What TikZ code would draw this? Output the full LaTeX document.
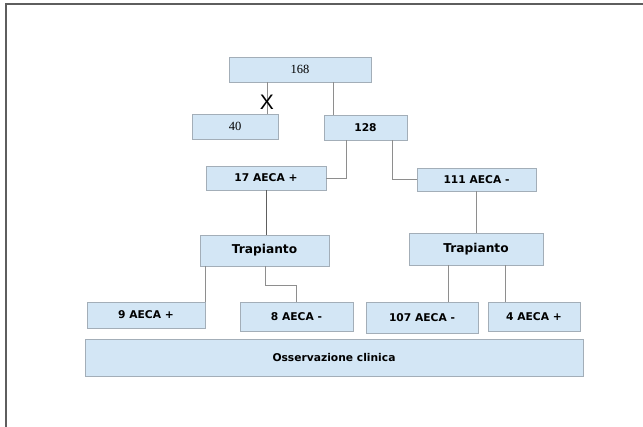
\documentclass[tikz,border=0pt]{standalone}
\usepackage{fontspec}
\newfontfamily\labelsans{DejaVu Sans}
\newfontfamily\labelserif{Liberation Serif}
\newfontfamily\marksans{Liberation Sans}
\definecolor{boxfill}{HTML}{D3E6F5}
\definecolor{boxedge}{HTML}{A3AEB8}
\definecolor{linkgray}{HTML}{8E8E8E}
\definecolor{framegray}{HTML}{5E5E5E}
\tikzset{
  box/.style={draw=boxedge, fill=boxfill, line width=0.9pt, rectangle,
    inner sep=0pt, font=\labelsans\bfseries\fontsize{10.7}{12}\selectfont},
  numbox/.style={box, font=\labelserif\fontsize{12.5}{14}\selectfont},
  bigbox/.style={box, font=\labelsans\bfseries\fontsize{12.2}{14}\selectfont},
  link/.style={draw=linkgray, line width=0.9pt},
}
\begin{document}
\begin{tikzpicture}[x=1pt, y=-1pt]
\useasboundingbox (0,0) rectangle (643,427);
% page frame (open at right and bottom)
\draw[framegray, line width=1.4pt] (6,427) -- (6,4) -- (643,4);

% boxes
\node[numbox, minimum width=142, minimum height=25] (n168) at (300,69.5) {168};
\node[numbox, minimum width=86, minimum height=25] (n40) at (235,126.5) {40};
\node[box, minimum width=83, minimum height=25] (n128) at (365.5,127.5) {128};
\node[box, minimum width=120, minimum height=24] (n17) at (266,178) {17 AECA +};
\node[box, minimum width=119, minimum height=23] (n111) at (476.5,179.5) {111 AECA -};
\node[bigbox, minimum width=129, minimum height=31] (tL) at (264.5,250.5) {Trapianto};
\node[bigbox, minimum width=134, minimum height=32] (tR) at (476,249) {Trapianto};
\node[box, minimum width=118, minimum height=26] (n9) at (146,315) {9 AECA +};
\node[box, minimum width=113, minimum height=29] (n8) at (296.5,316.5) {8 AECA -};
\node[box, minimum width=112, minimum height=31] (n107) at (422,317.5) {107 AECA -};
\node[box, minimum width=92, minimum height=29] (n4) at (534,316.5) {4 AECA +};
\node[box, minimum width=498, minimum height=37] (oss) at (334,357.5) {Osservazione clinica};

% drop positions of the connectors
\coordinate (d40) at (267,0);
\coordinate (d128) at (333,0);
\coordinate (d17) at (346,178.5);
\coordinate (d111) at (392,179.5);
\coordinate (d9) at (205,0);
\coordinate (d8a) at (265,285);
\coordinate (d8b) at (296.5,285);
\coordinate (d107) at (448,0);
\coordinate (d4) at (505,0);

% connectors
\draw[link] (n168.south -| d40) -- (n40.north -| d40);
\draw[link] (n168.south -| d128) -- (n128.north -| d128);
\draw[link] (n128.south -| d17) |- (n17.east);
\draw[link] (n128.south -| d111) |- (n111.west);
\draw[link, draw=framegray] (n17.south) -- (tL.north -| n17.south);
\draw[link] (n111.south) -- (tR.north -| n111.south);
\draw[link] (tL.south -| d9) -- (n9.north -| d9);
\draw[link] (tL.south -| d8a) -- (d8a) -- (d8b) -- (n8.north);
\draw[link] (tR.south -| d107) -- (n107.north -| d107);
\draw[link] (tR.south -| d4) -- (n4.north -| d4);

% exclusion mark on the branch to 40
\node[font=\marksans\fontsize{21}{21}\selectfont, inner sep=0pt] (xmark) at (267,102) {X};
\end{tikzpicture}
\end{document}
